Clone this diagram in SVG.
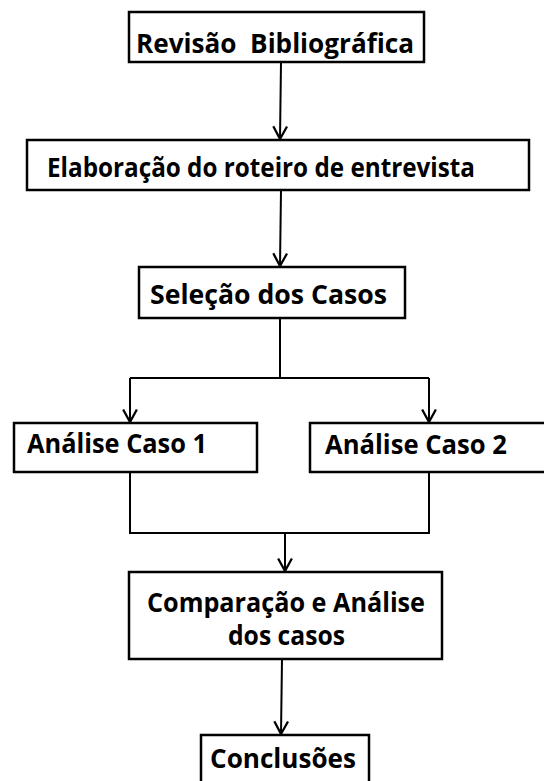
<svg xmlns="http://www.w3.org/2000/svg" width="544" height="781" viewBox="0 0 544 781">
<style>
.box{fill:#fff;stroke:#000;stroke-width:2.5}
.t{font-family:"Open Sans","Liberation Sans",sans-serif;font-weight:700;font-size:26px;fill:#000;white-space:pre}
.c{fill:none;stroke:#000;stroke-width:2}
</style>
<defs>
<marker id="ah" markerWidth="16" markerHeight="16" refX="12" refY="7" orient="auto" markerUnits="userSpaceOnUse" viewBox="0 0 14 14">
<path d="M1,1 L12,7 L1,13" fill="none" stroke="#000" stroke-width="2"/>
</marker>
</defs>
<rect width="544" height="781" fill="#fff"/>
<g id="connectors">
<path class="c" d="M281,62 L280,139" marker-end="url(#ah)"/>
<path class="c" d="M281,190 L280,266" marker-end="url(#ah)"/>
<path class="c" d="M280,318 L280,378"/>
<path class="c" d="M130,378 L429,378"/>
<path class="c" d="M130,378 L130,422" marker-end="url(#ah)"/>
<path class="c" d="M429,378 L429,422" marker-end="url(#ah)"/>
<path class="c" d="M130,472 L130,533 L429,533 L429,472"/>
<path class="c" d="M285,533 L285,571" marker-end="url(#ah)"/>
<path class="c" d="M282,659 L281,734" marker-end="url(#ah)"/>
</g>
<g id="n1"><rect class="box" x="129" y="12" width="295" height="50"/><text class="t" x="136" y="53" textLength="278" lengthAdjust="spacingAndGlyphs">Revisão  Bibliográfica</text></g>
<g id="n2"><rect class="box" x="27" y="140" width="502" height="50"/><text class="t" x="47" y="177" textLength="428" lengthAdjust="spacingAndGlyphs">Elaboração do roteiro de entrevista</text></g>
<g id="n3"><rect class="box" x="139" y="267" width="266" height="51"/><text class="t" x="150" y="304" textLength="237" lengthAdjust="spacingAndGlyphs">Seleção dos Casos</text></g>
<g id="n4"><rect class="box" x="14" y="423" width="243" height="49"/><text class="t" x="27" y="453" textLength="180" lengthAdjust="spacingAndGlyphs">Análise Caso 1</text></g>
<g id="n5"><rect class="box" x="310" y="423" width="236" height="49"/><text class="t" x="325" y="454" textLength="182" lengthAdjust="spacingAndGlyphs">Análise Caso 2</text></g>
<g id="n6"><rect class="box" x="129" y="572" width="313" height="87"/><text class="t" x="147" y="612" textLength="278" lengthAdjust="spacingAndGlyphs">Comparação e Análise</text><text class="t" x="228" y="645" textLength="117" lengthAdjust="spacingAndGlyphs">dos casos</text></g>
<g id="n7"><rect class="box" x="201" y="735" width="168" height="52"/><text class="t" x="210" y="768" textLength="146" lengthAdjust="spacingAndGlyphs">Conclusões</text></g>
</svg>
